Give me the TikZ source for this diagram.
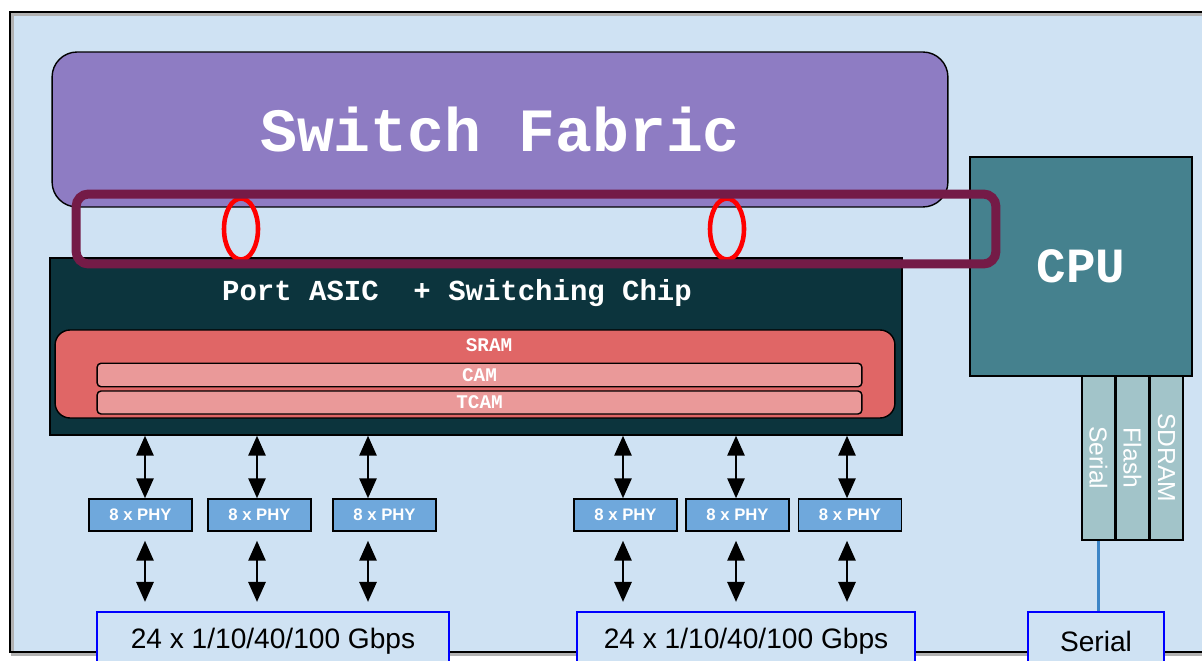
\documentclass[tikz,border=0pt]{standalone}
\usepackage{fontspec}
\setmainfont{Liberation Sans}
\newfontfamily\codefont{Liberation Mono}
\usepackage{tikz}
\usetikzlibrary{positioning,arrows.meta,shapes.geometric}
\definecolor{bgblue}{HTML}{CFE2F3}
\definecolor{fabric}{HTML}{8E7CC3}
\definecolor{asicgreen}{HTML}{0C343D}
\definecolor{sramred}{HTML}{E06666}
\definecolor{camred}{HTML}{EA9999}
\definecolor{maroon}{HTML}{741B47}
\definecolor{cputeal}{HTML}{45818E}
\definecolor{bargray}{HTML}{A2C4C9}
\definecolor{phyblue}{HTML}{6FA8DC}
\definecolor{lineblue}{HTML}{3D85C6}
\definecolor{portblue}{HTML}{0000FF}

\begin{document}
\begin{tikzpicture}[
  x=0.02cm, y=-0.02cm,
  box/.style={draw=black, line width=0.8pt, inner sep=0pt},
  mono/.style={text=white, font=\codefont\bfseries\fontsize{#1}{#1}\selectfont},
  membar/.style={box, fill=camred, minimum width=15.3cm, minimum height=0.47cm, rounded corners=0.08cm, mono=11},
  cpubar/.style={box, line width=1.1pt, fill=bargray, minimum width=3.28cm, minimum height=0.66cm, rotate=-90, text=white, font=\fontsize{14}{16}\selectfont},
  phybox/.style={box, fill=phyblue, minimum width=2.06cm, minimum height=0.64cm, text=white, font=\bfseries\fontsize{9.5}{10}\selectfont},
  portbox/.style={draw=portblue, line width=1.2pt, fill=bgblue, minimum height=1.16cm, font=\fontsize{16}{18}\selectfont},
  ring/.style={ellipse, draw=red, line width=2.6pt, minimum width=0.68cm, minimum height=1.22cm, inner sep=0pt},
  dbl/.style={{Triangle[length=4mm,width=3.4mm]}-{Triangle[length=4mm,width=3.4mm]}, line width=1.6pt}
]
  \clip (0,0) rectangle (1202,661);

  % Board
  \fill[bgblue] (10,12) rectangle (1215,652);
  \draw[black!30, line width=1.5pt] (12.5,14.5) rectangle (1217,654.5);
  \draw[line width=1.2pt] (10,12) rectangle (1215,652);

  % Switch fabric
  \node[box, fill=fabric, rounded corners=0.5cm, minimum width=17.92cm, minimum height=3.1cm] (fabric) at (500,129.5) {};
  \node[mono=35, anchor=base] (fabriclbl) at (500,152) {Switch Fabric};

  % Port ASIC
  \node[box, fill=asicgreen, minimum width=17.04cm, minimum height=3.54cm] (asic) at (476,346.5) {};
  \node[mono=16.5, anchor=base] (asiclbl) at (457,301) {Port ASIC\ \ + Switching Chip};

  % Memories
  \node[box, fill=sramred, rounded corners=0.3cm, minimum width=16.8cm, minimum height=1.76cm] (sram) at (475,374) {};
  \node[mono=11, anchor=base] (sramlbl) at (489,352) {SRAM};
  \node[membar] (cam) at (479.5,375) {CAM};
  \node[membar, minimum height=0.46cm] (tcam) at (479.5,402.5) {TCAM};

  % Fabric links
  \node[ring] (ring1) at (241,229) {};
  \node[ring] (ring2) at (727,229) {};

  % CPU
  \node[box, line width=1.1pt, fill=cputeal, minimum width=4.44cm, minimum height=4.38cm, mono=28] (cpu) at (1081,266.5) {CPU};
  \node[cpubar] (serialbar) at (1098.5,458) {Serial};
  \node[cpubar] (flashbar) at (1132.5,458) {Flash};
  \node[cpubar] (sdrambar) at (1166.5,458) {SDRAM};

  % Control path
  \node[draw=maroon, line width=0.18cm, rounded corners=0.25cm, minimum width=18.4cm, minimum height=1.4cm] (ctrl) at (536,229) {};

  % PHYs
  \foreach \n/\x in {1/140.5, 2/259.5, 3/384.5, 4/625.5, 5/737.5, 6/850}
    \node[phybox] (phy\n) at (\x,515) {8 x PHY};

  % Front ports
  \node[portbox, minimum width=7.04cm] (portL) at (273,641) {24 x 1/10/40/100 Gbps};
  \node[portbox, minimum width=6.76cm] (portR) at (746,641) {24 x 1/10/40/100 Gbps};
  \node[portbox, minimum width=2.72cm] (serialport) at (1096,641) {Serial};

  \foreach \p/\s/\q in {phy1/0.09/portL, phy2/-0.05/portL, phy3/-0.33/portL, phy4/-0.05/portR, phy5/-0.03/portR, phy6/-0.06/portR} {
    \draw[dbl] ([xshift=\s cm]\p.north) -- ([xshift=\s cm]\p.north |- asic.south);
    \draw[dbl, shorten <=0.18cm, shorten >=0.18cm] ([xshift=\s cm]\p.south) -- ([xshift=\s cm]\p.south |- \q.north);
  }
  \draw[lineblue, line width=1.2pt] (serialbar.east) -- (serialbar.east |- serialport.north);
\end{tikzpicture}
\end{document}
